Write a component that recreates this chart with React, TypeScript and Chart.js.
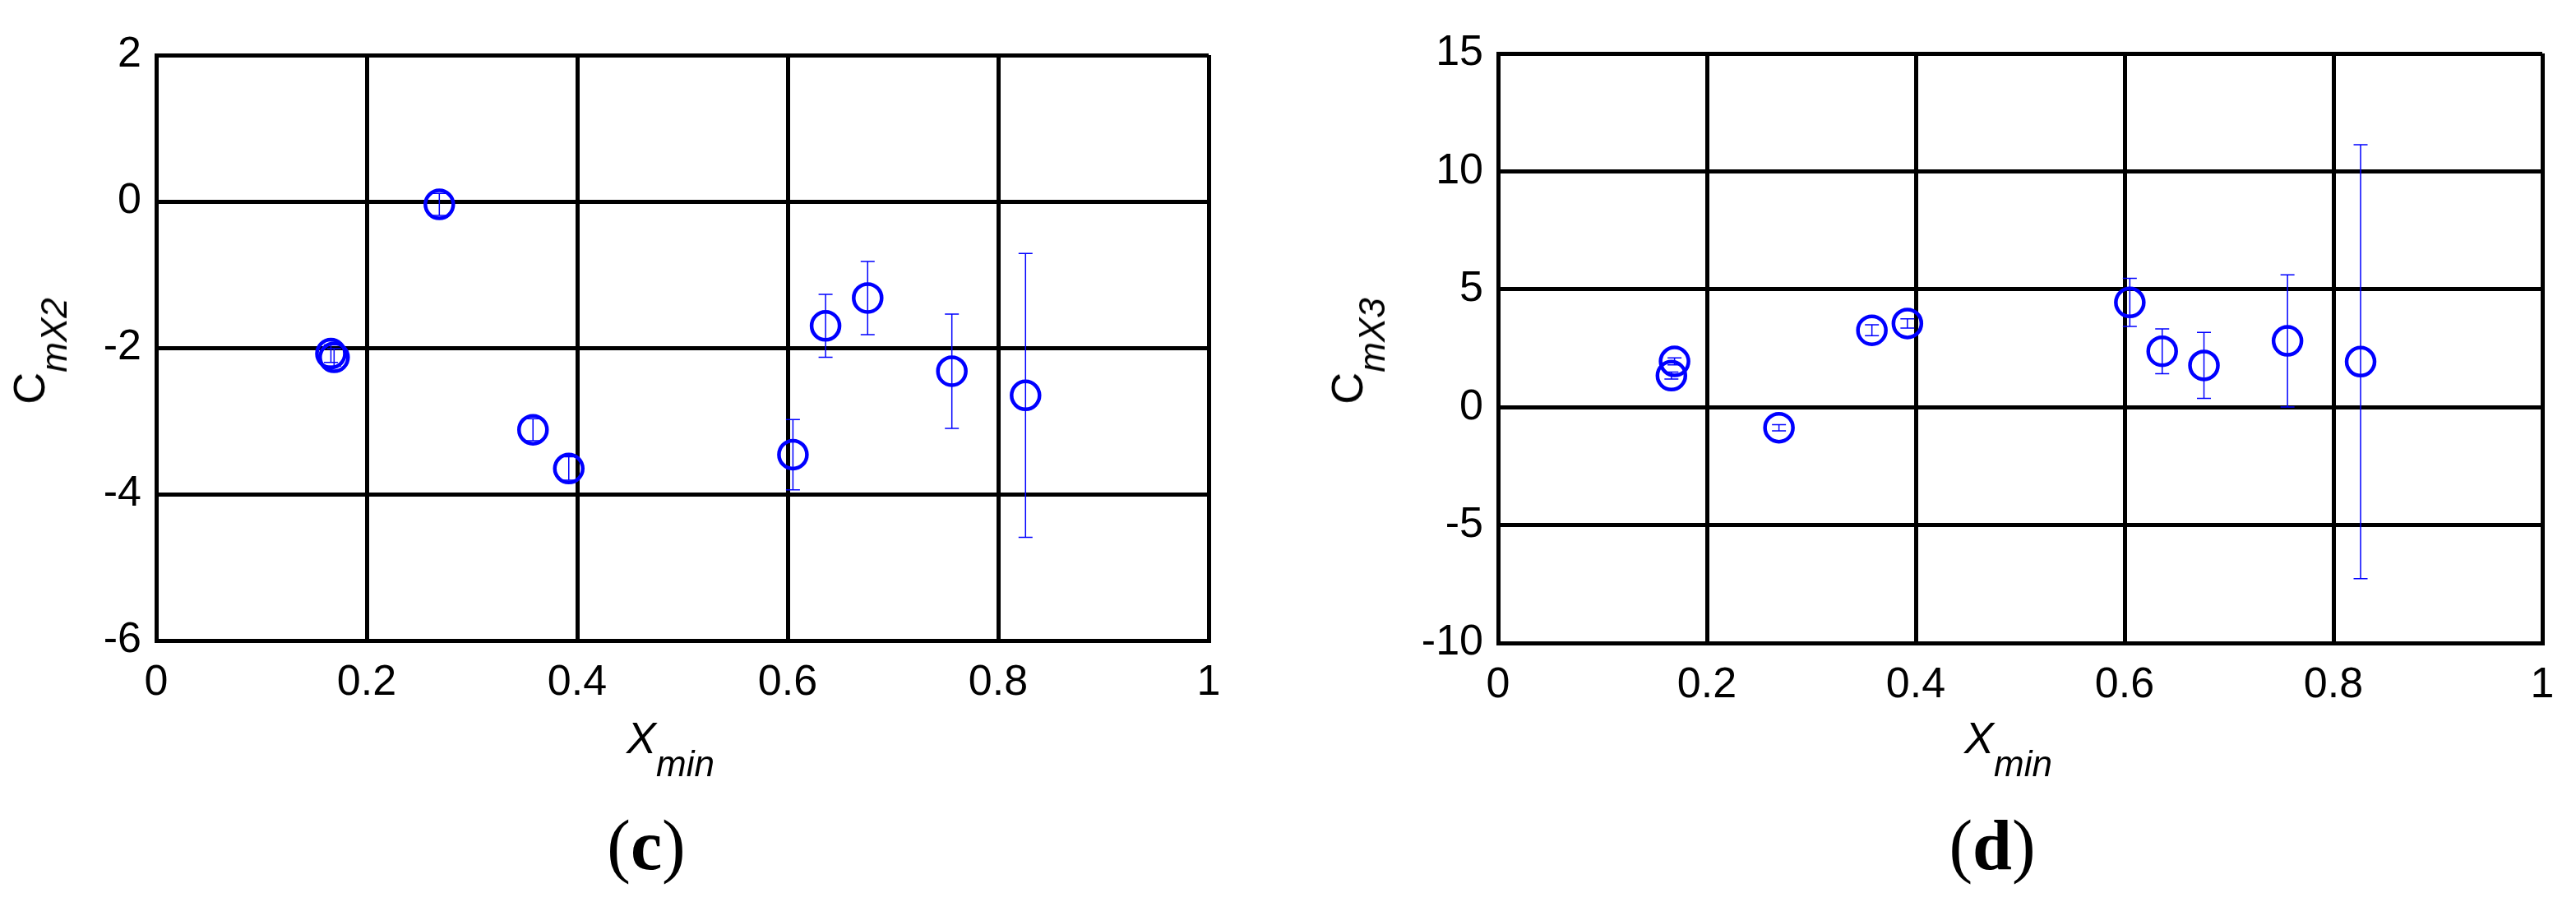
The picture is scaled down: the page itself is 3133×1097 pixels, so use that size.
import React, { useEffect, useRef } from 'react';
import { Chart, registerables } from 'chart.js';

Chart.register(...registerables);

// ---------- data ----------
const xMin = [0.166, 0.169, 0.269, 0.358, 0.392, 0.605, 0.636, 0.676, 0.756, 0.826];
const cmX2 = [-2.08, -2.13, -0.04, -3.12, -3.65, -3.46, -1.7, -1.32, -2.32, -2.65];
const cmX2Err = [0.12, 0.12, 0.15, 0.15, 0.16, 0.48, 0.43, 0.5, 0.78, 1.94];
const cmX3 = [1.34, 1.94, -0.87, 3.26, 3.55, 4.44, 2.37, 1.77, 2.81, 1.93];
const cmX3Err = [0.15, 0.15, 0.13, 0.23, 0.2, 1.02, 0.95, 1.4, 2.8, 9.2];

const xTicks = [0, 0.2, 0.4, 0.6, 0.8, 1];
const xTickLabels = ['0', '0.2', '0.4', '0.6', '0.8', '1'];
const yTicksC = [-6, -4, -2, 0, 2];
const yTickLabelsC = ['-6', '-4', '-2', '0', '2'];
const yTicksD = [-10, -5, 0, 5, 10, 15];
const yTickLabelsD = ['-10', '-5', '0', '5', '10', '15'];

const SANS = '"Liberation Sans", Arial, sans-serif';
const SERIF = '"Liberation Serif", "Times New Roman", serif';
const BLUE = '#0000ff';
const GRID_W = 5;

type PanelProps = {
  canvasLeft: number;
  W: number;
  H: number;
  area: { left: number; right: number; top: number; bottom: number };
  ys: number[];
  errs: number[];
  yTicks: number[];
  yLabels: string[];
};

function ScatterPanel(props: PanelProps) {
  const ref = useRef<HTMLCanvasElement | null>(null);
  useEffect(() => {
    const { W, H, area, ys, errs, yTicks, yLabels } = props;
    const yAxisW = 100;
    const xAxisH = 100;
    const errorBars = {
      id: 'errorBars',
      afterDatasetsDraw(chart: any) {
        const ctx = chart.ctx;
        const xs = chart.scales.x;
        const yc = chart.scales.y;
        ctx.save();
        ctx.strokeStyle = BLUE;
        ctx.lineWidth = 1.5;
        const cap = 8.5;
        for (let i = 0; i < xMin.length; i++) {
          const px = xs.getPixelForValue(xMin[i]);
          const pt = yc.getPixelForValue(ys[i] + errs[i]);
          const pb = yc.getPixelForValue(ys[i] - errs[i]);
          ctx.beginPath();
          ctx.moveTo(px, pt);
          ctx.lineTo(px, pb);
          ctx.moveTo(px - cap, pt);
          ctx.lineTo(px + cap, pt);
          ctx.moveTo(px - cap, pb);
          ctx.lineTo(px + cap, pb);
          ctx.stroke();
        }
        ctx.restore();
      },
    };
    const chart = new Chart(ref.current as HTMLCanvasElement, {
      type: 'scatter',
      data: {
        datasets: [
          {
            data: xMin.map((x, i) => ({ x, y: ys[i] })),
            pointRadius: 17,
            pointHoverRadius: 17,
            pointBorderWidth: 4.5,
            borderWidth: 4.5,
            pointBorderColor: BLUE,
            borderColor: BLUE,
            pointBackgroundColor: 'rgba(0,0,0,0)',
            backgroundColor: 'rgba(0,0,0,0)',
            showLine: false,
          } as any,
        ],
      },
      options: {
        responsive: false,
        animation: false,
        events: [],
        layout: {
          padding: {
            left: area.left - yAxisW,
            top: area.top,
            right: W - area.right,
            bottom: H - area.bottom - xAxisH,
          },
        },
        plugins: { legend: { display: false }, tooltip: { enabled: false } },
        scales: {
          x: {
            type: 'linear',
            min: 0,
            max: 1,
            afterBuildTicks: (s: any) => {
              s.ticks = xTicks.map((v) => ({ value: v }));
            },
            afterFit: (s: any) => {
              s.height = xAxisH;
            },
            grid: { color: '#000', lineWidth: GRID_W, drawTicks: false },
            border: { color: '#000', width: GRID_W },
            ticks: {
              color: '#000',
              font: { family: SANS, size: 52 },
              padding: 20,
              maxRotation: 0,
              autoSkip: false,
              callback: (_v: any, i: number) => xTickLabels[i],
            },
          },
          y: {
            type: 'linear',
            min: yTicks[0],
            max: yTicks[yTicks.length - 1],
            afterBuildTicks: (s: any) => {
              s.ticks = yTicks.map((v) => ({ value: v }));
            },
            afterFit: (s: any) => {
              s.width = yAxisW;
            },
            grid: { color: '#000', lineWidth: GRID_W, drawTicks: false },
            border: { color: '#000', width: GRID_W },
            ticks: {
              color: '#000',
              font: { family: SANS, size: 52 },
              padding: 18,
              autoSkip: false,
              callback: (_v: any, i: number) => yLabels[i],
            },
          },
        },
      } as any,
      plugins: [errorBars as any],
    });
    return () => chart.destroy();
  }, []);
  return (
    <canvas
      ref={ref}
      width={props.W}
      height={props.H}
      style={{ position: 'absolute', left: props.canvasLeft, top: 0, width: props.W, height: props.H }}
    />
  );
}

function YLabel({ cx, cy, sub }: { cx: number; cy: number; sub: string }) {
  return (
    <div
      style={{
        position: 'absolute',
        left: cx,
        top: cy,
        transform: 'translate(-50%, -50%) rotate(-90deg)',
        fontFamily: SANS,
        fontSize: 54,
        lineHeight: '54px',
        whiteSpace: 'nowrap',
        color: '#000',
      }}
    >
      C
      <span style={{ fontStyle: 'italic', fontSize: 44, position: 'relative', top: 27, lineHeight: 0 }}>{sub}</span>
    </div>
  );
}

function XLabel({ left }: { left: number }) {
  return (
    <div
      style={{
        position: 'absolute',
        left,
        top: 870,
        fontFamily: SANS,
        fontSize: 54,
        lineHeight: '54px',
        fontStyle: 'italic',
        whiteSpace: 'nowrap',
        color: '#000',
      }}
    >
      X
      <span style={{ fontSize: 44, position: 'relative', top: 28, lineHeight: 0 }}>min</span>
    </div>
  );
}

function PanelTag({ cx, letter }: { cx: number; letter: string }) {
  return (
    <div
      style={{
        position: 'absolute',
        left: cx,
        top: 985,
        transform: 'translateX(-50%)',
        fontFamily: SERIF,
        fontSize: 86,
        lineHeight: '86px',
        whiteSpace: 'nowrap',
        color: '#000',
      }}
    >
      (<b>{letter}</b>)
    </div>
  );
}

export default function App() {
  return (
    <div style={{ position: 'absolute', left: 0, top: 0, width: 3133, height: 1097, background: '#fff', overflow: 'hidden' }}>
      <ScatterPanel
        canvasLeft={0}
        W={1566}
        H={1097}
        area={{ left: 190, right: 1470, top: 67, bottom: 779 }}
        ys={cmX2}
        errs={cmX2Err}
        yTicks={yTicksC}
        yLabels={yTickLabelsC}
      />
      <ScatterPanel
        canvasLeft={1566}
        W={1567}
        H={1097}
        area={{ left: 1822 - 1566, right: 3092 - 1566, top: 65, bottom: 782 }}
        ys={cmX3}
        errs={cmX3Err}
        yTicks={yTicksD}
        yLabels={yTickLabelsD}
      />
      <YLabel cx={35} cy={427} sub="mX2" />
      <YLabel cx={1638} cy={427} sub="mX3" />
      <XLabel left={762} />
      <XLabel left={2389} />
      <PanelTag cx={786} letter="c" />
      <PanelTag cx={2423} letter="d" />
    </div>
  );
}
